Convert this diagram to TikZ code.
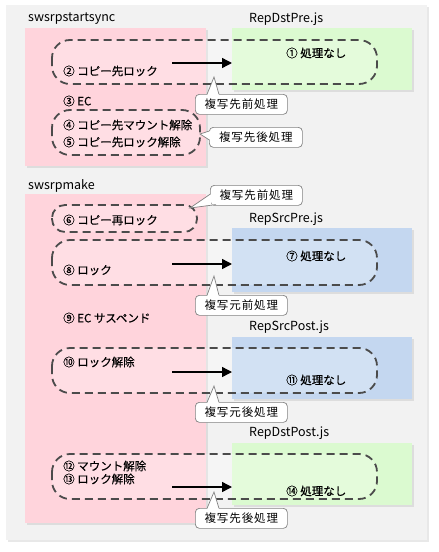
\documentclass[tikz,border=0pt]{standalone}
\usepackage{fontspec}
\setmainfont{Noto Sans CJK JP}
\newfontfamily\heavyjp{Noto Sans CJK JP}[FakeBold=0.2]
\newfontfamily\spacedjp{Noto Sans CJK JP}[LetterSpace=8]
\usetikzlibrary{arrows.meta,shadows}
\definecolor{bggray}{RGB}{242,242,242}
\definecolor{pinkf}{RGB}{255,212,220}
\definecolor{greenf}{RGB}{219,250,208}
\definecolor{bluef}{RGB}{196,215,240}
\definecolor{dashc}{RGB}{75,75,75}
\definecolor{callc}{RGB}{130,130,130}
\tikzset{
  panel/.style={anchor=north west, inner sep=0pt, draw=none,
    drop shadow={opacity=0.18, shadow xshift=2pt, shadow yshift=-2pt}},
  pinkbox/.style={panel, fill=pinkf},
  greenbox/.style={panel, fill=greenf},
  bluebox/.style={panel, fill=bluef},
  grp/.style={draw=dashc, line width=1.8pt, dash pattern=on 8pt off 5pt,
    rounded corners=18pt, fill=white, fill opacity=0.25, draw opacity=1},
  txt/.style={anchor=west, inner sep=0pt, font=\heavyjp\fontsize{11.5}{13}\selectfont},
  lbl/.style={anchor=west, inner sep=0pt, font=\fontsize{12.5}{14}\selectfont},
  flow/.style={line width=1.4pt, -{Triangle[length=10pt,width=10pt]}},
  callbox/.style={draw=callc, line width=0.7pt, fill=white, rounded corners=4pt,
    minimum height=20pt, inner sep=0pt, anchor=north west,
    font=\spacedjp\fontsize{11.5}{13}\selectfont},
  callptr/.style={draw=callc, line width=0.7pt, fill=white}
}
\begin{document}
\begin{tikzpicture}[x=1pt,y=-1pt]
\useasboundingbox (0,0) rectangle (439,552);
\fill[white] (0,0) rectangle (439,552);
% outer background
\node[panel, fill=bggray, minimum width=421pt, minimum height=535pt] (bg) at (6,5) {};

% section 1
\node[lbl] (l1) at (28,19) {swsrpstartsync};
\node[pinkbox, minimum width=181pt, minimum height=138pt] (p1) at (25,28) {};
\node[lbl] (l2) at (249,19) {RepDstPre.js};
\node[greenbox, minimum width=180pt, minimum height=62pt] (g1) at (232,28) {};
\draw[grp] (52,40) rectangle (377,84);
\draw[grp] (52,110) rectangle (200,155);
\node[txt] (t2) at (63,71) {② コピー先ロック};
\node[txt] (t1) at (286,53) {① 処理なし};
\node[txt] (t3) at (63,101) {③ EC};
\node[txt] (t4) at (63,125) {④ コピー先マウント解除};
\node[txt] (t5) at (63,142) {⑤ コピー先ロック解除};
\coordinate (a1) at (172,63);
\draw[flow] (a1) -- (g1.west |- a1);

% section 2
\node[lbl] (l3) at (28,186) {swsrpmake};
\node[pinkbox, minimum width=181pt, minimum height=329pt] (p2) at (25,194) {};
\node[lbl] (l4) at (249,219) {RepSrcPre.js};
\node[bluebox, minimum width=180pt, minimum height=64pt] (b1) at (232,228) {};
\node[lbl] (l5) at (249,327) {RepSrcPost.js};
\node[bluebox, minimum width=180pt, minimum height=62pt] (b2) at (232,337) {};
\node[lbl] (l6) at (249,433) {RepDstPost.js};
\node[greenbox, minimum width=180pt, minimum height=62pt] (g2) at (232,443) {};

\draw[grp, rounded corners=13pt] (52,205) rectangle (197,232);
\draw[grp] (52,240) rectangle (377,285);
\draw[grp] (52,348) rectangle (377,393);
\draw[grp] (52,454) rectangle (377,499);

\node[txt] (t6) at (63,220) {⑥ コピー再ロック};
\node[txt] (t7) at (286,256) {⑦ 処理なし};
\node[txt] (t8) at (63,270) {⑧ ロック};
\node[txt] (t9) at (63,318) {⑨ EC サスペンド};
\node[txt] (t10) at (63,362) {⑩ ロック解除};
\node[txt] (t11) at (286,380) {⑪ 処理なし};
\node[txt] (t12) at (63,466) {⑫ マウント解除};
\node[txt] (t13) at (63,479) {⑬ ロック解除};
\node[txt] (t14) at (286,491) {⑭ 処理なし};

\coordinate (a2) at (172,264);
\draw[flow] (a2) -- (b1.west |- a2);
\coordinate (a3) at (172,372);
\draw[flow] (a3) -- (b2.west |- a3);
\coordinate (a4) at (172,487);
\draw[flow] (a4) -- (g2.west |- a4);

% callouts
\node[callbox, minimum width=92pt] (c1) at (195,94) {複写先前処理};
\fill[white] (207,95) -- (214,77) -- (219,95) -- cycle;
\draw[callptr, fill=none] (207,94.4) -- (214,77) -- (219,94.4);

\node[callbox, minimum width=93pt] (c2) at (209,127) {複写先後処理};
\fill[white] (210,131) -- (200,134) -- (210,140) -- cycle;
\draw[callptr, fill=none] (209.4,131) -- (200,134) -- (209.4,140);

\node[callbox, minimum width=92pt] (c3) at (210,185) {複写先前処理};
\fill[white] (211,194) -- (190,208) -- (216,204) -- (211,204) -- cycle;
\draw[callptr, fill=none] (210.4,194) -- (190,208) -- (216,204.6);

\node[callbox, minimum width=92pt] (c4) at (195,295) {複写元前処理};
\fill[white] (207,296) -- (214,276) -- (219,296) -- cycle;
\draw[callptr, fill=none] (207,295.4) -- (214,276) -- (219,295.4);

\node[callbox, minimum width=92pt] (c5) at (195,402) {複写元後処理};
\fill[white] (207,403) -- (214,386) -- (219,403) -- cycle;
\draw[callptr, fill=none] (207,402.4) -- (214,386) -- (219,402.4);

\node[callbox, minimum width=92pt] (c6) at (195,508) {複写先後処理};
\fill[white] (207,509) -- (214,492) -- (219,509) -- cycle;
\draw[callptr, fill=none] (207,508.4) -- (214,492) -- (219,508.4);
\end{tikzpicture}
\end{document}
